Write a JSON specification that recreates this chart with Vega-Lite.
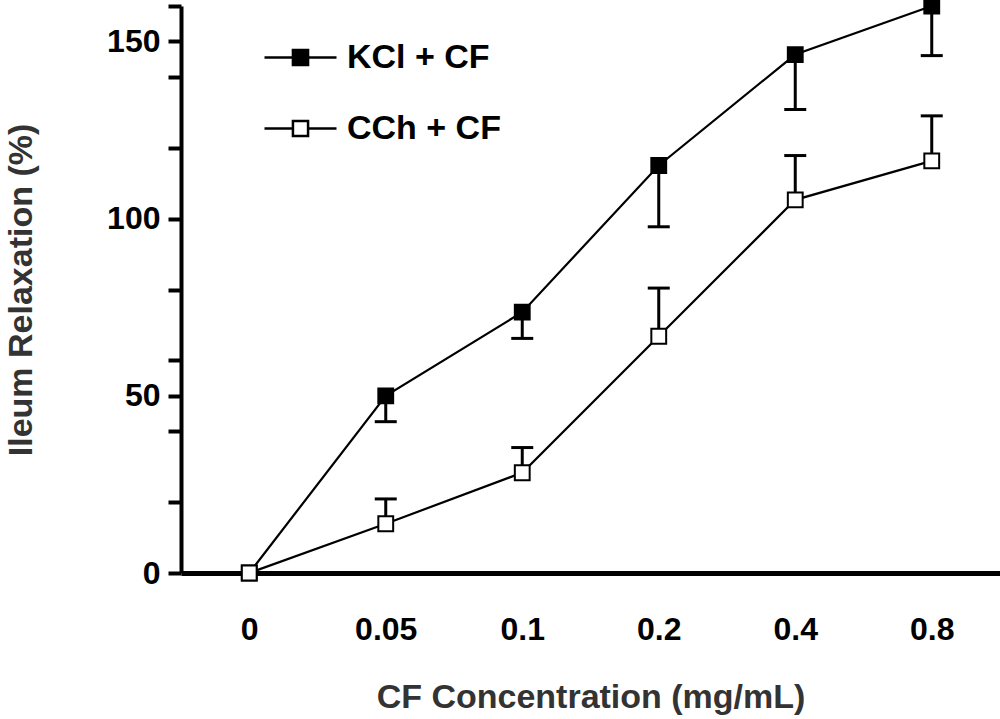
{
  "$schema": "https://vega.github.io/schema/vega-lite/v6.json",
  "width": 819,
  "height": 567,
  "autosize": {"type": "none"},
  "padding": {"left": 181, "top": 6, "right": 0, "bottom": 146},
  "background": "white",
  "data": {
    "values": [
      {"conc": "0", "series": "KCl + CF", "mean": 0, "err": null},
      {"conc": "0.05", "series": "KCl + CF", "mean": 50.0, "err": 42.7},
      {"conc": "0.1", "series": "KCl + CF", "mean": 73.6, "err": 66.2},
      {"conc": "0.2", "series": "KCl + CF", "mean": 115.0, "err": 97.7},
      {"conc": "0.4", "series": "KCl + CF", "mean": 146.3, "err": 130.8},
      {"conc": "0.8", "series": "KCl + CF", "mean": 160.0, "err": 146.0},
      {"conc": "0", "series": "CCh + CF", "mean": 0, "err": null},
      {"conc": "0.05", "series": "CCh + CF", "mean": 13.9, "err": 20.9},
      {"conc": "0.1", "series": "CCh + CF", "mean": 28.3, "err": 35.4},
      {"conc": "0.2", "series": "CCh + CF", "mean": 66.8, "err": 80.4},
      {"conc": "0.4", "series": "CCh + CF", "mean": 105.3, "err": 117.8},
      {"conc": "0.8", "series": "CCh + CF", "mean": 116.3, "err": 129.0}
    ]
  },
  "encoding": {
    "x": {
      "field": "conc",
      "type": "ordinal",
      "scale": {"type": "point", "padding": 0.5, "domain": ["0", "0.05", "0.1", "0.2", "0.4", "0.8"]},
      "axis": {
        "title": "CF Concentration (mg/mL)",
        "labelAngle": 0,
        "ticks": false,
        "tickSize": 0,
        "domainWidth": 5,
        "labelPadding": 41,
        "titlePadding": 35
      }
    },
    "y": {
      "field": "mean",
      "type": "quantitative",
      "scale": {"domain": [0, 160], "nice": false},
      "axis": {
        "title": "Ileum Relaxation (%)",
        "values": [0, 20, 40, 50, 60, 80, 100, 120, 140, 150, 160],
        "labelExpr": "indexof([0, 50, 100, 150], datum.value) >= 0 ? datum.label : ''",
        "labelOverlap": false,
        "labelBound": false,
        "tickSize": 13,
        "tickWidth": 4,
        "domainWidth": 4,
        "labelPadding": 8,
        "titlePadding": 68
      }
    }
  },
  "layer": [
    {
      "mark": {"type": "line", "color": "black", "strokeWidth": 2.2},
      "encoding": {"detail": {"field": "series"}}
    },
    {
      "transform": [{"filter": "datum.err != null"}],
      "mark": {"type": "rule", "color": "black", "strokeWidth": 3},
      "encoding": {"y2": {"field": "err"}}
    },
    {
      "transform": [{"filter": "datum.err != null"}],
      "mark": {"type": "tick", "color": "black", "size": 22, "thickness": 3, "opacity": 1},
      "encoding": {"y": {"field": "err", "type": "quantitative"}}
    },
    {
      "mark": {
        "type": "point",
        "shape": "square",
        "filled": true,
        "size": 220,
        "stroke": "black",
        "strokeWidth": 2,
        "opacity": 1
      },
      "encoding": {
        "fill": {
          "field": "series",
          "type": "nominal",
          "scale": {"domain": ["KCl + CF", "CCh + CF"], "range": ["black", "white"]},
          "legend": {
            "title": null,
            "orient": "none",
            "legendX": 82,
            "legendY": 14,
            "padding": 0,
            "symbolType": "M-1,0H-0.21M0.21,0H1M-0.21,-0.21H0.21V0.21H-0.21Z",
            "symbolSize": 5184,
            "symbolStrokeColor": "black",
            "symbolStrokeWidth": 2.5,
            "symbolOpacity": 1,
            "labelOffset": 9,
            "rowPadding": 16,
            "labelFontSize": 34,
            "labelFont": "Liberation Sans",
            "labelFontWeight": "bold",
            "labelColor": "black",
            "encode": {
              "symbols": {
                "update": {
                  "stroke": {"value": "black"},
                  "strokeWidth": {"value": 2.5},
                  "opacity": {"value": 1}
                }
              }
            }
          }
        }
      }
    }
  ],
  "config": {
    "view": {"stroke": null},
    "font": "Liberation Sans",
    "axis": {
      "grid": false,
      "domainColor": "black",
      "tickColor": "black",
      "labelFont": "Liberation Sans",
      "labelFontSize": 32,
      "labelFontWeight": "bold",
      "labelColor": "black",
      "titleFont": "Liberation Sans",
      "titleFontSize": 34,
      "titleFontWeight": "bold",
      "titleColor": "#333"
    }
  }
}
